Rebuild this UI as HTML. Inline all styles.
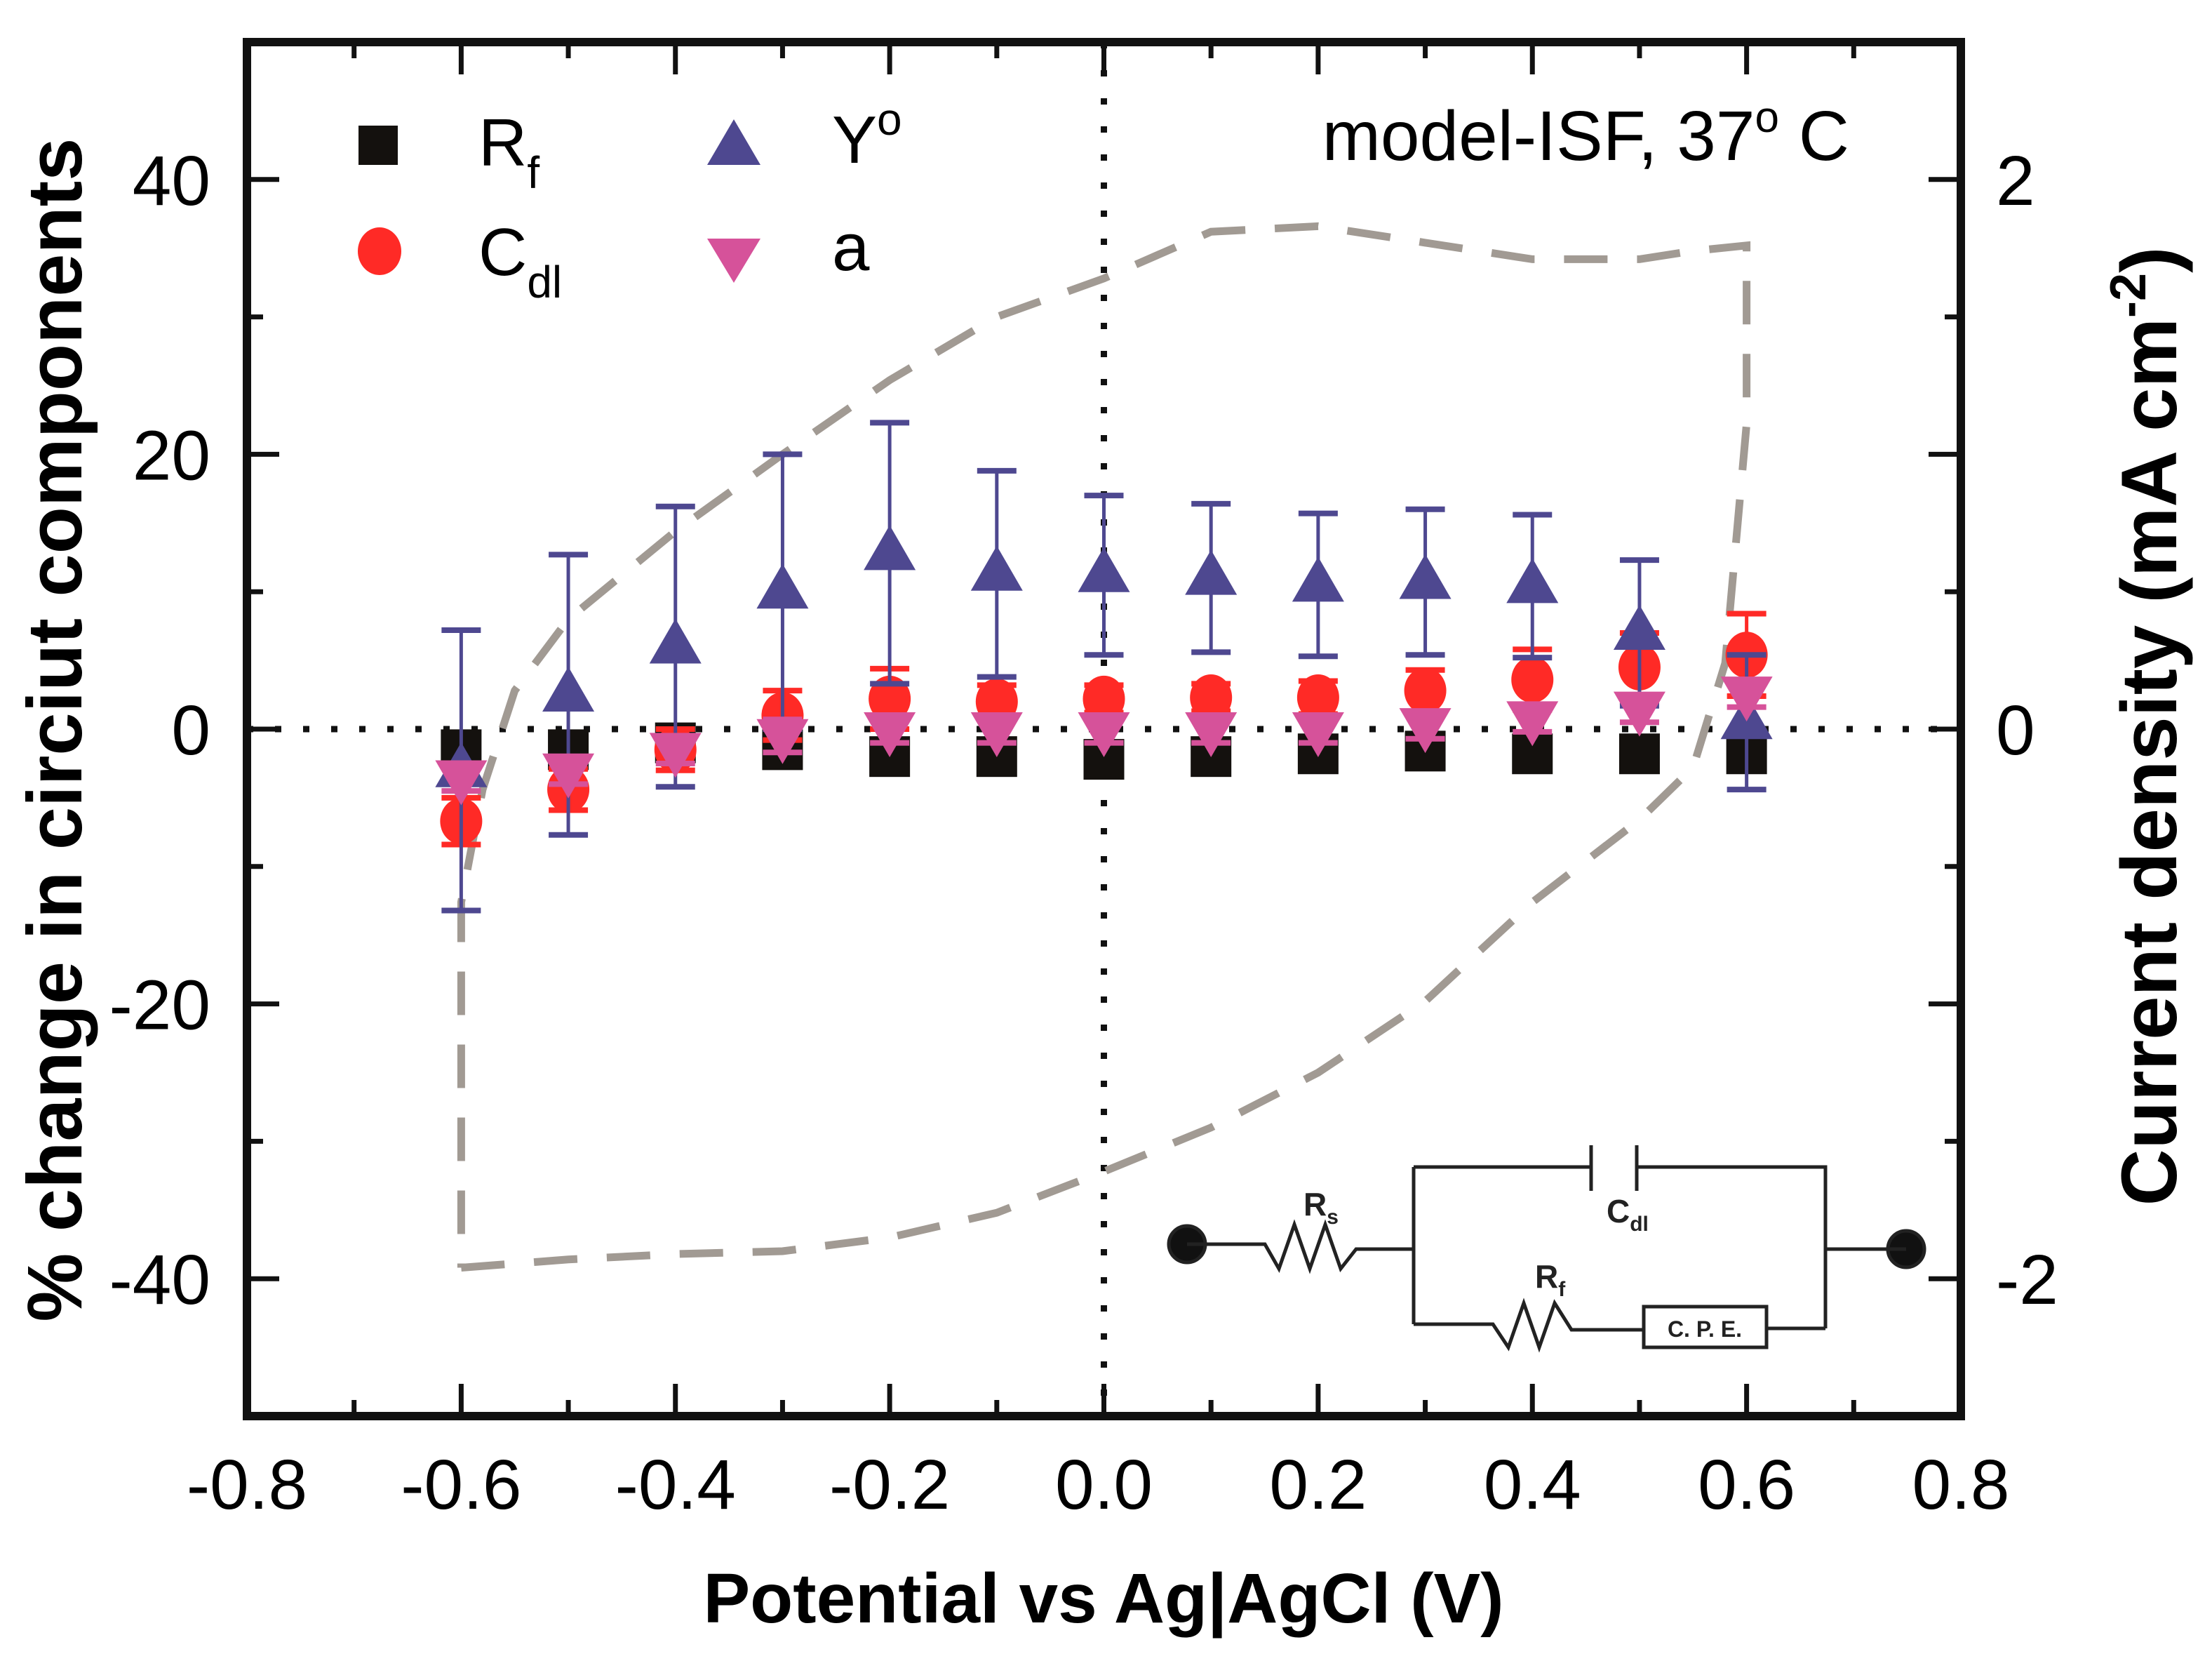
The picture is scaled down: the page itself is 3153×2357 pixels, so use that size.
<!DOCTYPE html>
<html><head><meta charset="utf-8"><style>
html,body{margin:0;padding:0;background:#fff;}
svg{display:block;}
text{font-family:"Liberation Sans",Arial,sans-serif;}
</style></head><body>
<svg id="chart" width="3153" height="2357" viewBox="0 0 3153 2357" xmlns="http://www.w3.org/2000/svg">
<g id="grid"></g>
<g id="curve"></g>
<g id="series"></g>
<g id="axes"></g>
<g id="legend">
  <rect x="511" y="179" width="56" height="56" fill="#14110e"/>
  <text x="682" y="236" font-size="96">R<tspan font-size="64" dy="32">f</tspan></text>
  <ellipse cx="541" cy="358" rx="31" ry="34" fill="#ff2a26"/>
  <text x="682" y="392" font-size="96">C<tspan font-size="64" dy="32">dl</tspan></text>
  <polygon points="1046,170 1084,235 1008,235" fill="#4e4890"/>
  <text x="1186" y="232" font-size="96">Y<tspan font-size="64" dy="-40">o</tspan></text>
  <polygon points="1008,340 1084,340 1046,403" fill="#d6529a"/>
  <text x="1186" y="385" font-size="96">a</text>
</g>
<text x="2636" y="228" font-size="100" text-anchor="end">model-ISF, 37<tspan font-size="62" dy="-40">o</tspan><tspan dy="40"> C</tspan></text>
<g id="circuit" stroke="#222" stroke-width="5" fill="none">
  <circle cx="1692" cy="1773" r="26" fill="#111"/>
  <circle cx="2717" cy="1780" r="26" fill="#111"/>
  <polyline points="1692,1773 1803,1773 1823,1808 1845,1745 1867,1808 1889,1745 1911,1808 1933,1780 2015,1780"/>
  <polyline points="2015,1663 2015,1887"/>
  <polyline points="2015,1663 2268,1663"/>
  <line x1="2268" y1="1632" x2="2268" y2="1697"/>
  <line x1="2333" y1="1632" x2="2333" y2="1697"/>
  <polyline points="2333,1663 2602,1663 2602,1893"/>
  <polyline points="2602,1780 2717,1780"/>
  <polyline points="2015,1887 2128,1887 2150,1920 2172,1857 2194,1920 2216,1857 2240,1895 2343,1895"/>
  <rect x="2343" y="1862" width="175" height="58"/>
  <polyline points="2518,1893 2602,1893"/>
</g>
<g fill="#222" font-weight="bold">
  <text x="1858" y="1732" font-size="46">R<tspan font-size="30" dy="12">s</tspan></text>
  <text x="2290" y="1742" font-size="46">C<tspan font-size="30" dy="12">dl</tspan></text>
  <text x="2188" y="1835" font-size="46">R<tspan font-size="30" dy="12">f</tspan></text>
  <text x="2430" y="1905" font-size="32" text-anchor="middle">C. P. E.</text>
</g>
<text x="1573" y="2312" font-size="100" font-weight="bold" text-anchor="middle">Potential vs Ag|AgCl (V)</text>
<text transform="translate(116,1040) rotate(-90)" font-size="110" font-weight="bold" text-anchor="middle">% change in circiut components</text>
<text transform="translate(3102,1035) rotate(-90)" font-size="112" font-weight="bold" text-anchor="middle">Current density (mA cm<tspan font-size="72" dy="-44">-2</tspan><tspan dy="44">)</tspan></text>
</svg>
<script>
const potentials = [-0.6,-0.5,-0.4,-0.3,-0.2,-0.1,0,0.1,0.2,0.3,0.4,0.5,0.6];
const rfValues = [-1.5,-1.5,-1,-1.5,-2,-2,-2.2,-2,-1.8,-1.6,-1.8,-1.8,-1.8];
const rfErrors = [0.5,0.5,0.5,0.5,0.5,0.5,0.5,0.5,0.5,0.5,0.5,0.5,0.5];
const cdlValues = [-6.7,-4.4,-1.5,1,2.2,2,2.2,2.3,2.3,2.8,3.6,4.5,5.4];
const cdlErrors = [1.7,1.5,1.5,1.8,2.2,1.2,1,1,1.2,1.5,2.2,2.5,3];
const y0Values = [-3,2.5,6,10,12.8,11.3,11.2,11,10.5,10.7,10.4,7,0.5];
const y0Errors = [10.2,10.2,10.2,10,9.5,7.5,5.8,5.4,5.2,5.3,5.2,5.3,4.9];
const aValues = [-3.5,-3,-1.5,-0.5,0,0,0,0,0,0.3,0.8,1.5,2.6];
const aErrors = [1,1,1,1.2,1,1,1,1,1,1,1,1,1];
const cvPotential = [-0.6,-0.5,-0.4,-0.3,-0.2,-0.1,0,0.1,0.2,0.3,0.4,0.5,0.55,0.58,0.6,0.6,0.55,0.5,0.4,0.3,0.2,0.1,0,-0.1,-0.2,-0.3,-0.4,-0.5,-0.55,-0.58,-0.6,-0.6];
const cvCurrent = [-1.96,-1.93,-1.91,-1.9,-1.85,-1.76,-1.61,-1.45,-1.25,-0.99,-0.63,-0.33,-0.14,0.24,1.11,1.76,1.74,1.71,1.71,1.77,1.83,1.81,1.64,1.5,1.27,1.0,0.72,0.4,0.14,-0.22,-0.63,-1.96];
const xTicks = [-0.8,-0.6,-0.4,-0.2,0,0.2,0.4,0.6,0.8];
const xTickLabels = ["-0.8","-0.6","-0.4","-0.2","0.0","0.2","0.4","0.6","0.8"];
const yTicks = [-40,-20,0,20,40];
const y2Ticks = [-2,0,2];

const L=352,R=2795,T=60,B=2018;
const X=v=>L+(v+0.8)/1.6*(R-L);
const Y=v=>B-(v+50)/100*(B-T);
const Y2=c=>Y(c*20);
const NS="http://www.w3.org/2000/svg";
function mk(parent,tag,attrs){const e=document.createElementNS(NS,tag);for(const k in attrs)e.setAttribute(k,attrs[k]);parent.appendChild(e);return e;}

const grid=document.getElementById('grid');
let h=mk(grid,'line',{x1:L,x2:R,y1:Y(0),y2:Y(0),stroke:'#111','stroke-width':9,'stroke-dasharray':'9 31'});


let v=mk(grid,'line',{x1:X(0),x2:X(0),y1:T,y2:B,stroke:'#111','stroke-width':9,'stroke-dasharray':'9 31'});



const cg=document.getElementById('curve');
let d=cvPotential.map((p,i)=>(i?'L':'M')+X(p).toFixed(1)+','+Y2(cvCurrent[i]).toFixed(1)).join(' ');
let cp=mk(cg,'path',{d:d,fill:'none',stroke:'#a19a93','stroke-width':11,'stroke-dasharray':'62 42'});



const sg=document.getElementById('series');
function errbar(g,x,y,e,color,name){
  const ge=mk(g,'g',{stroke:color,'stroke-width':5});
  
  
  mk(ge,'line',{x1:x,x2:x,y1:Y(y+e),y2:Y(y-e)});
  mk(ge,'line',{x1:x-28,x2:x+28,y1:Y(y+e),y2:Y(y+e),'stroke-width':8});
  mk(ge,'line',{x1:x-28,x2:x+28,y1:Y(y-e),y2:Y(y-e),'stroke-width':8});
}
potentials.forEach((p,i)=>{
  const x=X(p);
  errbar(sg,x,rfValues[i],rfErrors[i],'#14110e','rf-error-bar');
  const s=mk(sg,'rect',{x:x-29,y:Y(rfValues[i])-29,width:58,height:58,fill:'#14110e'});
  
  
});
potentials.forEach((p,i)=>{
  const x=X(p);
  errbar(sg,x,cdlValues[i],cdlErrors[i],'#ff2a26','cdl-error-bar');
  const c=mk(sg,'ellipse',{cx:x,cy:Y(cdlValues[i]),rx:30,ry:33,fill:'#ff2a26'});
  
  
});
potentials.forEach((p,i)=>{
  const x=X(p),y=Y(y0Values[i]);
  errbar(sg,x,y0Values[i],y0Errors[i],'#4e4890','y0-error-bar');
  const t=mk(sg,'polygon',{points:`${x},${y-40} ${x+37},${y+24} ${x-37},${y+24}`,fill:'#4e4890'});
  
  
});
potentials.forEach((p,i)=>{
  const x=X(p),y=Y(aValues[i]);
  errbar(sg,x,aValues[i],aErrors[i],'#d6529a','a-error-bar');
  const t=mk(sg,'polygon',{points:`${x-37},${y-24} ${x+37},${y-24} ${x},${y+40}`,fill:'#d6529a'});
  
  
});

const ag=document.getElementById('axes');
const fr=mk(ag,'rect',{x:L,y:T,width:R-L,height:B-T,fill:'none',stroke:'#111','stroke-width':12});


for(let k=-8;k<=8;k++){
  const val=k/10,x=X(val),len=(k%2===0)?46:23;
  if(k===-8||k===8) continue;
  mk(ag,'line',{x1:x,x2:x,y1:B,y2:B-len,stroke:'#111','stroke-width':7});
  mk(ag,'line',{x1:x,x2:x,y1:T,y2:T+len,stroke:'#111','stroke-width':7});
}
xTicks.forEach((t,i)=>{
  const tx=mk(ag,'text',{x:X(t),y:2150,'font-size':100,'text-anchor':'middle'});
  tx.textContent=xTickLabels[i];
  
  
});
for(let k=-40;k<=40;k+=10){
  const y=Y(k),len=(k%20===0)?46:23;
  mk(ag,'line',{x1:L,x2:L+len,y1:y,y2:y,stroke:'#111','stroke-width':7});
  mk(ag,'line',{x1:R,x2:R-len,y1:y,y2:y,stroke:'#111','stroke-width':7});
}
yTicks.forEach(t=>{
  const tx=mk(ag,'text',{x:300,y:Y(t)+36,'font-size':100,'text-anchor':'end'});
  tx.textContent=String(t);
  
  
});
y2Ticks.forEach(t=>{
  const tx=mk(ag,'text',{x:2845,y:Y2(t)+36,'font-size':100,'text-anchor':'start'});
  tx.textContent=String(t);
  
  
});
</script>
</body></html>
